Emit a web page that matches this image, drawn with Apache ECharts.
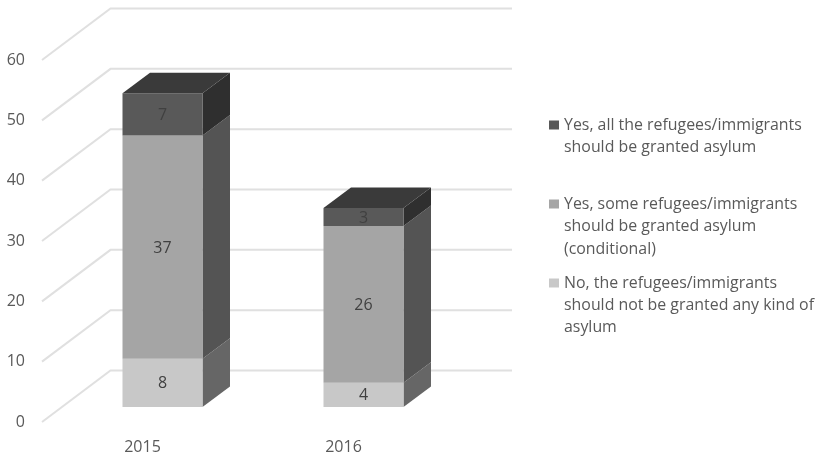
<!DOCTYPE html>
<html><head><meta charset="utf-8">
<style>html,body{margin:0;padding:0;background:#fff}#c{width:823px;height:456px}</style>
<script src="https://cdn.jsdelivr.net/npm/echarts@6/dist/echarts.min.js"></script>
</head><body><div id="c"></div>
<script>
const categories = ['2015', '2016'];
const ticks = [0, 10, 20, 30, 40, 50, 60];
const noAsylum = [8, 4];
const someAsylum = [37, 26];
const allAsylum = [7, 3];
const legendNames = {
  all: 'Yes, all the refugees/immigrants\nshould be granted asylum',
  some: 'Yes, some refugees/immigrants\nshould be granted asylum\n(conditional)',
  no: 'No, the refugees/immigrants\nshould not be granted any kind of\nasylum'
};
const FONT = '"Open Sans", sans-serif';
const TEXT = '#595959';

function stacked(values, below) {
  return values.map((v, i) => {
    const s = below.reduce((a, b) => a + b[i], 0);
    return [i, s, s + v, v];
  });
}
function barRender(front, side, top) {
  return function (params, api) {
    const c0 = api.coord([api.value(0), api.value(1)]);
    const c1 = api.coord([api.value(0), api.value(2)]);
    const w = api.size([1, 0])[0] * 0.398;
    const x0 = c0[0] + 20 - w / 2, x1 = x0 + w;
    const y0 = c0[1] - 15, y1 = c1[1] - 15;
    const dx = 27.5, dy = -20.5;
    const ch = [
      {type: 'polygon', shape: {points: [[x1, y0], [x1 + dx, y0 + dy], [x1 + dx, y1 + dy], [x1, y1]]}, style: {fill: side}},
      {type: 'rect', shape: {x: x0, y: y1, width: w, height: y0 - y1}, style: {fill: front}}
    ];
    if (top) ch.push({type: 'polygon', shape: {points: [[x0, y1], [x0 + dx, y1 + dy], [x1 + dx, y1 + dy], [x1, y1]]}, style: {fill: top}});
    ch.push({type: 'text', style: {x: (x0 + x1) / 2, y: (y0 + y1) / 2 + 1, text: String(api.value(3)), align: 'center', verticalAlign: 'middle', fill: '#404040', font: '16px ' + FONT}});
    return {type: 'group', children: ch};
  };
}
function wallRender(params, api) {
  const c = api.coord([0, api.value(0)]);
  const g = params.coordSys;
  const x = g.x, y = c[1], dx = 68.5, dy = -51.5;
  return {type: 'polyline', shape: {points: [[x, y], [x + dx, y + dy], [x + g.width + dx - 0.5, y + dy]]},
    style: {fill: null, stroke: '#e0e0e0', lineWidth: 2}};
}
function legendItem(name, color, y, lines) {
  const out = [{type: 'rect', shape: {x: 549, y: y - 4.5, width: 10, height: 9}, style: {fill: color}}];
  name.split('\n').forEach((t, i) => out.push({type: 'text',
    style: {x: 564, y: y + lines[i], text: t, fill: TEXT, font: '15.9px ' + FONT, verticalAlign: 'middle'}}));
  return out;
}
const chart = echarts.init(document.getElementById('c'), null, {renderer: 'canvas'});
chart.setOption({
  animation: false,
  backgroundColor: '#fff',
  grid: {left: 42, width: 402, top: 60, height: 362},
  xAxis: {type: 'category', data: categories, axisLine: {show: false}, axisTick: {show: false},
    axisLabel: {color: TEXT, fontFamily: FONT, fontSize: 16, margin: 17}},
  yAxis: {type: 'value', min: ticks[0], max: ticks[ticks.length - 1], interval: 10, splitLine: {show: false},
    axisLine: {show: false}, axisTick: {show: false},
    axisLabel: {color: TEXT, fontFamily: FONT, fontSize: 16, margin: 17, padding: [4, 0, 0, 0]}},
  graphic: [
    ...legendItem(legendNames.all, '#595959', 125, [0, 22.5]),
    ...legendItem(legendNames.some, '#a5a5a5', 204, [0, 22.5, 45]),
    ...legendItem(legendNames.no, '#c8c8c8', 283, [0, 22, 44])
  ],
  series: [
    {type: 'custom', name: 'gridlines', data: ticks.map(t => [t]), renderItem: wallRender, silent: true, z: 1, encode: {y: 0}},
    {type: 'custom', name: legendNames.no, data: stacked(noAsylum, []), renderItem: barRender('#c8c8c8', '#666666'), z: 2, encode: {x: 0, y: [1, 2]}},
    {type: 'custom', name: legendNames.some, data: stacked(someAsylum, [noAsylum]), renderItem: barRender('#a5a5a5', '#545454'), z: 2, encode: {x: 0, y: [1, 2]}},
    {type: 'custom', name: legendNames.all, data: stacked(allAsylum, [noAsylum, someAsylum]), renderItem: barRender('#595959', '#2f2f2f', '#3a3a3a'), z: 2, encode: {x: 0, y: [1, 2]}}
  ]
});
</script></body></html>
